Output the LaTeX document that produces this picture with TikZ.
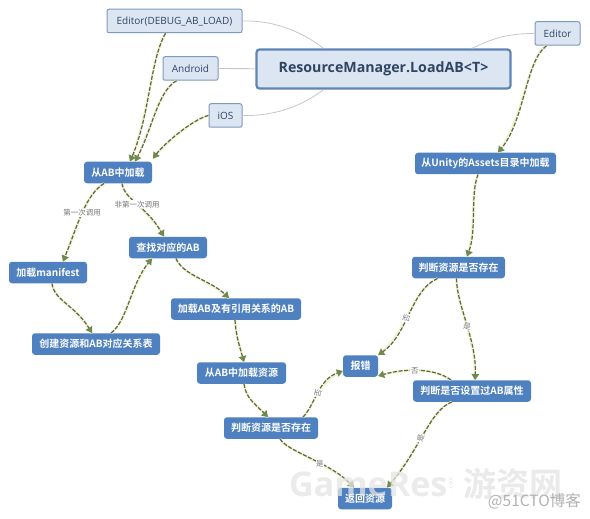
\documentclass[tikz,border=0pt]{standalone}
\usepackage{fontspec}
\setmainfont{Open Sans}
\newfontfamily\cjk{Noto Sans CJK SC}
\newfontfamily\cjkb{Noto Sans CJK SC Bold}
\newfontfamily\cjkit[AutoFakeSlant=0.2]{Noto Sans CJK SC}
\usetikzlibrary{arrows.meta,calc}
\definecolor{lightfill}{HTML}{DCE6F3}
\definecolor{lightedge}{HTML}{7E9ABB}
\definecolor{topink}{HTML}{2F4562}
\definecolor{bluefill}{HTML}{4F81C0}
\definecolor{mainedge}{HTML}{5F85B5}
\definecolor{flowline}{HTML}{5C6650}
\definecolor{flowtip}{HTML}{6F8A4C}
\definecolor{flowglow}{HTML}{F3F2C8}
\definecolor{labink}{HTML}{777777}
\definecolor{linkgray}{HTML}{C4C8CC}
\tikzset{
  topbox/.style={draw=lightedge,line width=1pt,fill=lightfill,rounded corners=2pt,
    text=topink,font=\fontsize{10}{12}\selectfont,inner sep=0pt,minimum height=23.5pt},
  mainbox/.style={draw=mainedge,line width=2.2pt,fill=lightfill,rounded corners=3pt,
    text=topink,font=\fontsize{14.2}{18}\selectfont\bfseries,inner sep=0pt,minimum width=254pt,minimum height=39pt},
  bluebox/.style={fill=bluefill,rounded corners=3pt,text=white,
    font=\fontsize{10}{12}\selectfont\cjkb,inner sep=0pt,minimum height=21.5pt},
  flow/.style={draw=flowline,line width=1.2pt,dash pattern=on 4pt off 1.6pt,
    -{Triangle[width=7.5pt,length=6pt,fill=flowtip,color=flowtip,sep=0pt]},
    preaction={draw=flowglow,line width=2.6pt,solid,-}},
  link/.style={draw=linkgray,line width=.8pt},
  lab/.style={fill=white,text=labink,inner sep=.6pt,font=\fontsize{7.5}{8}\selectfont\cjkit},
  mark1/.style={text=gray!20,font=\fontsize{34}{36}\selectfont\bfseries,inner sep=0pt,opacity=.75},
  mark2/.style={text=gray!22,font=\fontsize{33}{36}\selectfont\cjkb,inner sep=0pt,opacity=.75},
  mark3/.style={text=gray!60,font=\fontsize{15.5}{17}\selectfont\cjk,inner sep=0pt}
}
\begin{document}
\begin{tikzpicture}[x=1pt,y=-1pt]
\useasboundingbox[fill=white] (0,0) rectangle (590,519);
% top nodes
\node[mainbox] (main) at (383.5,69) {ResourceManager.LoadAB<T>};
\node[topbox,minimum width=135pt] (edbg) at (174.5,21) {Editor(DEBUG\_AB\_LOAD)};
\node[topbox,minimum width=55pt] (android) at (190.5,68.5) {Android};
\node[topbox,minimum width=33pt] (ios) at (225.5,115.5) {iOS};
\node[topbox,minimum width=45pt] (editor) at (557.5,33.5) {Editor};
% blue nodes
\node[bluebox,minimum width=68pt] (load) at (118,172.5) {从AB中加载};
\node[bluebox,minimum width=78pt] (find) at (168,247.5) {查找对应的AB};
\node[bluebox,minimum width=78pt] (manifest) at (48,272.5) {加载manifest};
\node[bluebox,minimum width=128pt] (table) at (96,344) {创建资源和AB对应关系表};
\node[bluebox,minimum width=130pt] (loadref) at (236,309) {加载AB及有引用关系的AB};
\node[bluebox,minimum width=89pt] (loadres) at (241.5,373) {从AB中加载资源};
\node[bluebox,minimum width=94pt] (checkl) at (271,428) {判断资源是否存在};
\node[bluebox,minimum width=141pt] (unity) at (485.5,163.5) {从Unity的Assets目录中加载};
\node[bluebox,minimum width=93pt] (checkr) at (458.5,267.5) {判断资源是否存在};
\node[bluebox,minimum width=35pt] (err) at (360.5,366) {报错};
\node[bluebox,minimum width=118pt] (isab) at (472,391) {判断是否设置过AB属性};
\node[bluebox,minimum width=54pt] (ret) at (365,498.5) {返回资源};
% plain links
\draw[link] (edbg.east) .. controls +(35,-1) and +(-18,-14) .. ([xshift=-60pt]main.north);
\draw[link] (android) -- (main);
\draw[link] (ios.east) .. controls +(35,1) and +(-18,14) .. ([xshift=-60pt]main.south);
\draw[link] (editor.west) .. controls +(-30,0) and +(20,-9) .. ([xshift=88pt]main.north);
% flows
\draw[flow] ([xshift=-9pt]edbg.south) .. controls +(-15.5,27) and +(20,-47) .. ([xshift=12pt]load.north);
\draw[flow] ([xshift=-14pt]android.south) .. controls +(-18.5,10) and +(17,-32) .. ([xshift=17pt]load.north);
\draw[flow] (ios.west) .. controls +(-14,3) and +(12,-16) .. ([xshift=35pt,yshift=3pt]load.north);
\draw[flow] ([xshift=-14pt]load.south) .. controls +(-19,12) and +(15,-37) ..
  node[lab,pos=.5] (lab1) {第一次调用} ([xshift=15pt]manifest.north);
\draw[flow] ([xshift=4pt]load.south) .. controls +(3,17) and +(-19,-32) ..
  node[lab,pos=.5] (lab2) {非第一次调用} ([xshift=-4pt]find.north);
\draw[flow] ([xshift=4pt]manifest.south) .. controls +(2,17) and +(-17,-28) .. ([xshift=-4pt]table.north);
\draw[flow] ([xshift=15pt]table.north) .. controls +(17,-13) and +(-22,27) .. ([xshift=-16pt]find.south);
\draw[flow] ([xshift=8pt]find.south) .. controls +(7,17) and +(-19,-18) .. ([xshift=-7pt]loadref.north);
\draw[flow] ([xshift=-1pt]loadref.south) .. controls +(1,16) and +(-5,-18) .. ([xshift=2.5pt]loadres.north);
\draw[flow] ([xshift=2.5pt]loadres.south) .. controls +(2,14) and +(-14,-14) .. ([xshift=-3pt]checkl.north);
\draw[flow] ([xshift=9pt]checkl.south) .. controls +(8,13) and +(-24,-25) ..
  node[lab,pos=.6] (lab3) {是} ([xshift=-11pt]ret.north);
\draw[flow] ([xshift=32pt]checkl.north) .. controls +(12,-12) and +(-25,9) ..
  node[lab,pos=.5,rotate=75] (lab4) {否} (err.west|-0,371);
\draw[flow] ([xshift=-21pt]checkr.south) .. controls +(-27,12) and +(30,-21) ..
  node[lab,pos=.55,rotate=75] (lab5) {否} (err.north east);
\draw[flow] ([xshift=-2pt]checkr.south) .. controls +(0,27) and +(2,-40) ..
  node[lab,pos=.52,rotate=-10] (lab6) {是} ([xshift=3pt]isab.north);
\draw[flow] ([xshift=-21pt]isab.north) .. controls +(-16,-12) and +(27,-8) ..
  node[lab,pos=.55] (lab7) {否} (err.east|-0,376);
\draw[flow] ([xshift=-20pt]isab.south) .. controls +(-22,8) and +(33,-38) ..
  node[lab,pos=.55,rotate=75] (lab8) {是} ([xshift=22pt]ret.north);
\draw[flow] ([xshift=-11pt]editor.south) .. controls +(-21,15) and +(27,-33) .. ([xshift=12.5pt]unity.north);
\draw[flow] ([xshift=-7.5pt]unity.south) .. controls +(-8,21) and +(10,-27) .. ([xshift=8.5pt]checkr.north);
% watermarks
\node[mark1,anchor=west] (wm1) at (289,484) {GameRes};
\node[text=gray!30,font=\fontsize{5}{6}\selectfont,rotate=90,inner sep=0pt] (wm2) at (451,484) {.com};
\node[mark2,anchor=west] (wm3) at (463,484) {游资网};
\node[mark3,anchor=east] (wm4) at (581,501) {@51CTO博客};
\end{tikzpicture}
\end{document}
